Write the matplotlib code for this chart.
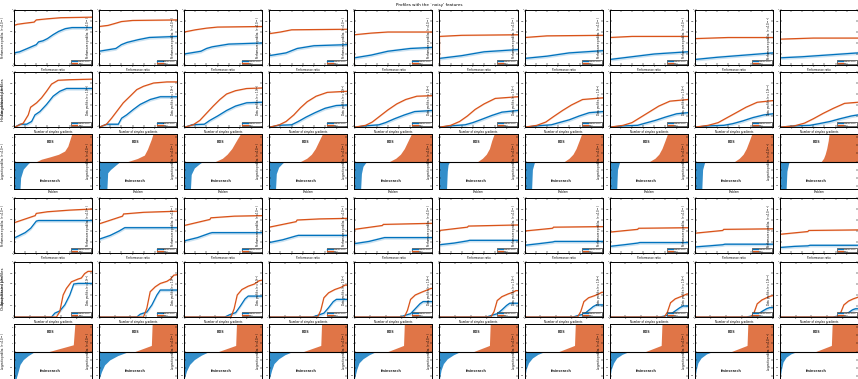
import numpy as np
import matplotlib
matplotlib.use("Agg")
import matplotlib.pyplot as plt
from matplotlib.lines import Line2D

# ---------------------------------------------------------------- data
solvers = ["fminsearch", "BDS"]
tau_exponents = [1, 2, 3, 4, 5, 6, 7, 8, 9, 10]
title = "Profiles with the `noisy' features"
group_labels = ["History-based profiles", "Output-based profiles"]

perf_ticks = [0, 1, 2, 3, 4, 5, 6, 7]
data_hist_ticks = [0, 1, 2, 3, 4, 5, 6, 7]
data_out_ticks = [0, 2, 4, 6, 8, 10]
ratio_ticks = [-3, -2, -1, 0, 1, 2, 3]
ratio_max = 3.4
n_problems = 100

# performance profiles, history-based: (ratio, fraction) breakpoints per tolerance
perf_hist_fmin = [
    ([0, 0, 0.5, 1.2, 2.0, 2.2, 2.6, 3.0, 3.5, 4.0, 4.6, 5.2, 7], [0, 0.22, 0.24, 0.30, 0.37, 0.42, 0.44, 0.48, 0.55, 0.61, 0.66, 0.68, 0.68]),
    ([0, 0, 1.5, 2.0, 2.5, 3.5, 4.5, 7], [0, 0.25, 0.30, 0.37, 0.41, 0.46, 0.50, 0.52]),
    ([0, 0, 1.5, 2.0, 2.5, 4.0, 7], [0, 0.20, 0.25, 0.30, 0.33, 0.38, 0.40]),
    ([0, 0, 1.5, 2.5, 4.0, 7], [0, 0.17, 0.22, 0.30, 0.35, 0.37]),
    ([0, 0, 1.5, 3.0, 5.0, 7], [0, 0.13, 0.18, 0.25, 0.30, 0.32]),
    ([0, 0, 2.0, 4.0, 7], [0, 0.12, 0.17, 0.24, 0.28]),
    ([0, 0, 2.0, 4.0, 7], [0, 0.12, 0.16, 0.22, 0.26]),
    ([0, 0, 2.0, 4.0, 7], [0, 0.10, 0.15, 0.20, 0.24]),
    ([0, 0, 2.0, 7], [0, 0.10, 0.14, 0.22]),
    ([0, 0, 2.0, 7], [0, 0.13, 0.15, 0.22]),
]
perf_hist_bds = [
    ([0, 0, 0.3, 1.0, 1.8, 2.0, 3.0, 4.2, 7], [0, 0.72, 0.74, 0.76, 0.78, 0.82, 0.84, 0.86, 0.87]),
    ([0, 0, 0.8, 1.5, 2.0, 3.0, 7], [0, 0.70, 0.72, 0.76, 0.79, 0.81, 0.82]),
    ([0, 0, 1.0, 2.0, 3.0, 7], [0, 0.60, 0.64, 0.67, 0.69, 0.70]),
    ([0, 0, 1.0, 2.0, 7], [0, 0.57, 0.60, 0.64, 0.65]),
    ([0, 0, 1.5, 3.0, 7], [0, 0.55, 0.58, 0.60, 0.60]),
    ([0, 0, 2.0, 7], [0, 0.52, 0.54, 0.55]),
    ([0, 0, 2.0, 7], [0, 0.50, 0.53, 0.54]),
    ([0, 0, 2.0, 7], [0, 0.50, 0.52, 0.52]),
    ([0, 0, 3.0, 7], [0, 0.48, 0.50, 0.50]),
    ([0, 0, 3.0, 7], [0, 0.47, 0.49, 0.49]),
]

# data profiles, history-based
data_hist_fmin = [
    ([0, 0.09, 0.54, 1.13, 1.58, 1.88, 2.32, 2.92, 3.51, 4.11, 4.71, 7], [0, 0, 0.05, 0.05, 0.10, 0.22, 0.28, 0.41, 0.56, 0.65, 0.70, 0.70]),
    ([0, 0.06, 0.66, 1.72, 2.02, 2.47, 3.08, 3.68, 4.59, 5.49, 7], [0, 0, 0.05, 0.05, 0.16, 0.22, 0.32, 0.41, 0.50, 0.55, 0.55]),
    ([0, 0.1, 0.7, 1.8, 2.3, 3.0, 3.8, 4.6, 5.6, 7], [0, 0, 0.04, 0.05, 0.12, 0.20, 0.30, 0.38, 0.44, 0.45]),
    ([0, 0.1, 0.8, 2.0, 2.6, 3.3, 4.1, 5.0, 6.0, 7], [0, 0, 0.03, 0.04, 0.10, 0.18, 0.26, 0.34, 0.39, 0.40]),
    ([0, 0.1, 1.0, 2.2, 2.8, 3.6, 4.5, 5.4, 7], [0, 0, 0.02, 0.04, 0.08, 0.15, 0.22, 0.28, 0.30]),
    ([0, 0.1, 1.0, 2.3, 3.0, 3.8, 4.7, 5.6, 7], [0, 0, 0.02, 0.04, 0.08, 0.14, 0.21, 0.27, 0.30]),
    ([0, 0.1, 1.1, 2.4, 3.1, 4.0, 4.9, 5.8, 7], [0, 0, 0.02, 0.04, 0.08, 0.13, 0.20, 0.26, 0.28]),
    ([0, 0.1, 1.2, 2.5, 3.2, 4.1, 5.0, 6.0, 7], [0, 0, 0.02, 0.03, 0.07, 0.12, 0.18, 0.24, 0.26]),
    ([0, 0.1, 1.2, 2.6, 3.4, 4.3, 5.2, 6.2, 7], [0, 0, 0.02, 0.03, 0.06, 0.11, 0.17, 0.22, 0.24]),
    ([0, 0.1, 1.3, 2.7, 3.5, 4.5, 5.4, 6.4, 7], [0, 0, 0.02, 0.03, 0.06, 0.10, 0.15, 0.20, 0.22]),
]
data_hist_bds = [
    ([0, 0.09, 0.83, 1.28, 1.49, 2.03, 2.47, 2.92, 3.37, 3.96, 5.0, 7], [0, 0, 0.07, 0.22, 0.36, 0.44, 0.53, 0.65, 0.78, 0.85, 0.86, 0.87]),
    ([0, 0.06, 0.66, 1.12, 1.57, 2.17, 2.78, 3.38, 3.98, 4.89, 6.09, 7], [0, 0, 0.05, 0.16, 0.28, 0.44, 0.56, 0.68, 0.74, 0.80, 0.82, 0.82]),
    ([0, 0.1, 0.8, 1.4, 2.0, 2.6, 3.2, 3.8, 4.6, 5.6, 7], [0, 0, 0.04, 0.12, 0.25, 0.38, 0.50, 0.60, 0.66, 0.70, 0.71]),
    ([0, 0.1, 0.9, 1.5, 2.2, 2.8, 3.4, 4.2, 5.2, 7], [0, 0, 0.04, 0.10, 0.22, 0.35, 0.46, 0.56, 0.63, 0.65]),
    ([0, 0.1, 1.0, 1.6, 2.3, 3.0, 3.8, 4.6, 5.6, 7], [0, 0, 0.03, 0.09, 0.20, 0.31, 0.42, 0.50, 0.56, 0.57]),
    ([0, 0.1, 1.0, 1.8, 2.5, 3.2, 4.0, 5.0, 7], [0, 0, 0.03, 0.10, 0.20, 0.32, 0.42, 0.52, 0.55]),
    ([0, 0.1, 1.1, 1.9, 2.6, 3.4, 4.2, 5.2, 7], [0, 0, 0.03, 0.09, 0.19, 0.30, 0.40, 0.50, 0.53]),
    ([0, 0.1, 1.2, 2.0, 2.8, 3.6, 4.4, 5.4, 7], [0, 0, 0.03, 0.08, 0.18, 0.28, 0.38, 0.47, 0.50]),
    ([0, 0.1, 1.2, 2.1, 2.9, 3.8, 4.6, 5.6, 7], [0, 0, 0.03, 0.08, 0.17, 0.27, 0.36, 0.45, 0.48]),
    ([0, 0.1, 1.3, 2.2, 3.0, 3.9, 4.8, 5.8, 7], [0, 0, 0.02, 0.07, 0.15, 0.25, 0.34, 0.43, 0.45]),
]

# log-ratio profiles, history-based: (problem, log-ratio) breakpoints
ratio_hist_fmin = [
    ([0, 7.7, 8.5, 11.9, 18.3, 21.3], [-3.4, -3.4, -2.0, -0.94, -0.25, 0]),
    ([0, 10, 11, 14.5, 21, 27], [-3.4, -3.4, -1.4, -1.0, -0.47, 0]),
    ([0, 8, 9, 13, 20, 24], [-3.4, -3.4, -1.6, -0.8, -0.25, 0]),
    ([0, 8, 9, 12, 17, 20], [-3.4, -3.4, -1.5, -0.7, -0.2, 0]),
    ([0, 8, 9, 11, 14, 16], [-3.4, -3.4, -1.5, -0.6, -0.2, 0]),
    ([0, 9, 10, 11, 13], [-3.4, -3.4, -1.2, -0.4, 0]),
    ([0, 9, 10, 12, 13], [-3.4, -3.4, -1.0, -0.3, 0]),
    ([0, 9, 10, 12, 13], [-3.4, -3.4, -1.0, -0.3, 0]),
    ([0, 9, 10, 12, 13], [-3.4, -3.4, -1.0, -0.3, 0]),
    ([0, 8, 9, 11, 12], [-3.4, -3.4, -1.2, -0.3, 0]),
]
ratio_hist_bds = [
    ([29, 35, 46, 57, 65, 69, 74, 100], [0, 0.28, 0.57, 0.89, 1.3, 1.9, 3.4, 3.4]),
    ([37, 49, 58, 62, 67, 69, 100], [0, 0.37, 0.79, 1.53, 2.77, 3.4, 3.4]),
    ([40, 49, 55, 61, 67, 72, 100], [0, 0.4, 0.9, 1.6, 2.6, 3.4, 3.4]),
    ([40, 48, 54, 59, 64, 68, 100], [0, 0.4, 0.9, 1.6, 2.6, 3.4, 3.4]),
    ([45, 53, 59, 64, 69, 73, 100], [0, 0.4, 0.9, 1.6, 2.6, 3.4, 3.4]),
    ([49, 55, 60, 64, 67, 70, 100], [0, 0.4, 0.9, 1.6, 2.6, 3.4, 3.4]),
    ([51, 57, 62, 66, 70, 73, 100], [0, 0.4, 0.9, 1.6, 2.6, 3.4, 3.4]),
    ([51, 58, 63, 67, 71, 74, 100], [0, 0.4, 0.9, 1.6, 2.6, 3.4, 3.4]),
    ([51, 57, 62, 66, 70, 73, 100], [0, 0.4, 0.9, 1.6, 2.6, 3.4, 3.4]),
    ([53, 56, 58, 60, 62, 63, 100], [0, 0.4, 0.9, 1.6, 2.6, 3.4, 3.4]),
]

# performance profiles, output-based
perf_out_fmin = [
    ([0, 0, 1.0, 1.5, 2.0, 2.2, 7], [0, 0.27, 0.37, 0.45, 0.58, 0.59, 0.59]),
    ([0, 0, 1.0, 1.8, 2.3, 7], [0, 0.25, 0.32, 0.40, 0.46, 0.46]),
    ([0, 0, 1.2, 2.3, 2.5, 7], [0, 0.22, 0.28, 0.36, 0.37, 0.37]),
    ([0, 0, 1.2, 2.4, 2.6, 7], [0, 0.19, 0.24, 0.31, 0.32, 0.32]),
    ([0, 0, 1.3, 2.5, 2.7, 7], [0, 0.17, 0.21, 0.27, 0.28, 0.28]),
    ([0, 0, 1.3, 2.5, 2.7, 7], [0, 0.15, 0.18, 0.22, 0.23, 0.23]),
    ([0, 0, 1.3, 2.5, 2.7, 7], [0, 0.14, 0.17, 0.20, 0.21, 0.21]),
    ([0, 0, 1.3, 2.5, 2.7, 7], [0, 0.12, 0.15, 0.18, 0.19, 0.19]),
    ([0, 0, 1.3, 2.5, 2.7, 7], [0, 0.11, 0.13, 0.15, 0.16, 0.16]),
    ([0, 0, 1.3, 2.5, 2.7, 7], [0, 0.10, 0.12, 0.13, 0.14, 0.14]),
]
perf_out_bds = [
    ([0, 0, 1.9, 2.0, 3.0, 5.0, 7], [0, 0.55, 0.68, 0.72, 0.75, 0.78, 0.80]),
    ([0, 0, 2.1, 2.2, 4.0, 7], [0, 0.53, 0.67, 0.71, 0.74, 0.76]),
    ([0, 0, 2.3, 2.4, 4.5, 7], [0, 0.50, 0.61, 0.64, 0.67, 0.68]),
    ([0, 0, 2.4, 2.5, 4.5, 7], [0, 0.47, 0.57, 0.60, 0.62, 0.63]),
    ([0, 0, 2.5, 2.6, 7], [0, 0.43, 0.50, 0.52, 0.54]),
    ([0, 0, 2.5, 2.6, 7], [0, 0.41, 0.47, 0.49, 0.51]),
    ([0, 0, 2.5, 2.6, 7], [0, 0.40, 0.45, 0.47, 0.48]),
    ([0, 0, 2.5, 2.6, 7], [0, 0.38, 0.43, 0.45, 0.46]),
    ([0, 0, 2.5, 2.6, 7], [0, 0.36, 0.41, 0.43, 0.44]),
    ([0, 0, 2.5, 2.6, 7], [0, 0.34, 0.39, 0.41, 0.42]),
]

# data profiles, output-based
data_out_fmin = [
    ([0, 4.81, 5.23, 5.87, 6.51, 7.15, 7.66, 8.21, 10], [0, 0, 0.07, 0.11, 0.22, 0.40, 0.60, 0.61, 0.61]),
    ([0, 4.83, 5.26, 6.12, 6.77, 7.41, 7.84, 10], [0, 0, 0.05, 0.09, 0.22, 0.40, 0.49, 0.49]),
    ([0, 5.2, 5.8, 6.6, 7.2, 7.8, 8.2, 10], [0, 0, 0.04, 0.08, 0.20, 0.33, 0.38, 0.38]),
    ([0, 5.5, 6.2, 7.0, 7.6, 8.2, 8.6, 10], [0, 0, 0.03, 0.07, 0.17, 0.28, 0.32, 0.32]),
    ([0, 5.8, 6.5, 7.2, 7.8, 8.4, 8.8, 10], [0, 0, 0.03, 0.06, 0.15, 0.24, 0.28, 0.28]),
    ([0, 6.0, 6.7, 7.4, 8.0, 8.6, 9.0, 10], [0, 0, 0.03, 0.06, 0.13, 0.21, 0.25, 0.25]),
    ([0, 6.2, 6.9, 7.6, 8.2, 8.8, 9.2, 10], [0, 0, 0.03, 0.05, 0.12, 0.19, 0.22, 0.22]),
    ([0, 6.4, 7.1, 7.8, 8.4, 9.0, 9.4, 10], [0, 0, 0.02, 0.05, 0.11, 0.17, 0.20, 0.20]),
    ([0, 6.6, 7.3, 8.0, 8.6, 9.2, 9.6, 10], [0, 0, 0.02, 0.04, 0.10, 0.15, 0.17, 0.17]),
    ([0, 6.8, 7.5, 8.2, 8.8, 9.3, 9.7, 10], [0, 0, 0.02, 0.04, 0.08, 0.13, 0.15, 0.15]),
]
data_out_bds = [
    ([0, 5.45, 5.87, 6.3, 6.72, 7.36, 8.21, 8.64, 9.06, 9.49, 10], [0, 0, 0.10, 0.40, 0.52, 0.64, 0.69, 0.71, 0.79, 0.83, 0.83]),
    ([0, 5.69, 6.12, 6.55, 7.2, 7.84, 8.71, 9.14, 9.57, 10], [0, 0, 0.16, 0.46, 0.55, 0.61, 0.65, 0.69, 0.76, 0.77]),
    ([0, 6.0, 6.4, 6.8, 7.4, 8.2, 9.0, 9.6, 10], [0, 0, 0.15, 0.40, 0.50, 0.56, 0.60, 0.66, 0.67]),
    ([0, 6.2, 6.6, 7.0, 7.6, 8.4, 9.2, 9.7, 10], [0, 0, 0.12, 0.35, 0.44, 0.50, 0.54, 0.58, 0.58]),
    ([0, 6.4, 6.8, 7.2, 7.8, 8.6, 9.3, 9.8, 10], [0, 0, 0.12, 0.32, 0.40, 0.45, 0.49, 0.52, 0.52]),
    ([0, 6.6, 7.0, 7.4, 8.0, 8.8, 9.4, 9.8, 10], [0, 0, 0.10, 0.30, 0.37, 0.42, 0.45, 0.48, 0.48]),
    ([0, 6.8, 7.2, 7.6, 8.2, 9.0, 9.5, 9.9, 10], [0, 0, 0.10, 0.28, 0.35, 0.39, 0.42, 0.45, 0.45]),
    ([0, 7.0, 7.4, 7.8, 8.4, 9.1, 9.6, 9.9, 10], [0, 0, 0.09, 0.26, 0.33, 0.37, 0.40, 0.42, 0.42]),
    ([0, 7.2, 7.6, 8.0, 8.6, 9.2, 9.7, 10], [0, 0, 0.08, 0.24, 0.31, 0.35, 0.38, 0.39]),
    ([0, 7.4, 7.8, 8.2, 8.8, 9.4, 9.8, 10], [0, 0, 0.08, 0.22, 0.29, 0.33, 0.35, 0.36]),
]

# log-ratio profiles, output-based
ratio_out_fmin = [
    ([0, 2.6, 5.5, 7.7, 11.9, 18.3, 24.7, 26.8], [-3.4, -3.4, -2.4, -1.6, -1.0, -0.5, -0.12, 0]),
    ([0, 3, 7, 13.6, 24, 38], [-3.4, -2.5, -1.66, -1.04, -0.5, 0]),
    ([0, 3, 7, 13, 22, 32], [-3.4, -2.4, -1.6, -1.0, -0.45, 0]),
    ([0, 3, 6, 12, 20, 30], [-3.4, -2.3, -1.5, -0.9, -0.4, 0]),
    ([0, 3, 6, 11, 19, 28], [-3.4, -2.2, -1.4, -0.9, -0.4, 0]),
    ([0, 2, 5, 10, 18, 27], [-3.4, -2.3, -1.5, -0.9, -0.4, 0]),
    ([0, 2, 5, 10, 17, 26], [-3.4, -2.2, -1.4, -0.8, -0.35, 0]),
    ([0, 2, 5, 9, 16, 25], [-3.4, -2.2, -1.4, -0.8, -0.35, 0]),
    ([0, 2, 4, 8, 15, 23], [-3.4, -2.2, -1.4, -0.8, -0.3, 0]),
    ([0, 2, 4, 8, 14, 22], [-3.4, -2.2, -1.3, -0.7, -0.3, 0]),
]
ratio_out_bds = [
    ([45, 76, 78, 100], [0, 0.83, 3.4, 3.4]),
    ([46, 67, 68, 100], [0, 0.75, 3.4, 3.4]),
    ([44, 66, 67, 100], [0, 0.75, 3.4, 3.4]),
    ([44, 66, 67, 100], [0, 0.75, 3.4, 3.4]),
    ([43, 63, 64, 100], [0, 0.75, 3.4, 3.4]),
    ([44, 64, 65, 100], [0, 0.75, 3.4, 3.4]),
    ([44, 64, 65, 100], [0, 0.75, 3.4, 3.4]),
    ([46, 66, 67, 100], [0, 0.75, 3.4, 3.4]),
    ([47, 67, 68, 100], [0, 0.75, 3.4, 3.4]),
    ([46, 66, 67, 100], [0, 0.75, 3.4, 3.4]),
]

band_fmin = 0.03
band_bds = 0.01

# ---------------------------------------------------------------- style
BLUE = "#0072BD"
ORANGE = "#D95319"
plt.rcParams["font.family"] = ["DejaVu Sans"]

W, H = 858, 379
fig = plt.figure(figsize=(W / 100, H / 100), dpi=100)
fig.patch.set_facecolor("white")

col_left = [14 + 85.1 * c for c in range(10)]
row_top = [10, 72, 134, 198, 262, 324]
ax_w, ax_h = 78, 55

TICK_FS = 1.5
LABEL_FS = 1.9


def make_axes(r, c):
    ax = fig.add_axes([col_left[c] / W, 1 - (row_top[r] + ax_h) / H, ax_w / W, ax_h / H])
    for s in ax.spines.values():
        s.set_linewidth(0.7)
    ax.tick_params(direction="in", top=True, right=True, labelsize=TICK_FS,
                   length=1.4, width=0.35, pad=0.5)
    return ax


def set_ylabel(ax, text):
    ax.set_ylabel(text, fontsize=LABEL_FS)
    ax.yaxis.set_label_coords(-0.075, 0.5)


def curve(ax, xy, color, band):
    x, y = np.asarray(xy[0], float), np.asarray(xy[1], float)
    if band:
        lo = np.clip(y - band, 0, 1)
        hi = np.where(y > 0, np.clip(y + band, 0, 1), 0)
        ax.fill_between(x, lo, hi, color=color, alpha=0.2, lw=0)
    ax.plot(x, y, color=color, lw=0.9, solid_joinstyle="miter")


def profile_panel(ax, fmin, bds, ticks, xlabel, ylabel):
    curve(ax, fmin, BLUE, band_fmin)
    curve(ax, bds, ORANGE, band_bds)
    ax.set_xlim(ticks[0], ticks[-1])
    ax.set_ylim(0, 1)
    ax.set_xticks(ticks)
    ax.set_yticks([0, 0.2, 0.4, 0.6, 0.8, 1])
    ax.set_yticklabels(["0", "0.2", "0.4", "0.6", "0.8", "1"])
    ax.set_xlabel(xlabel, fontsize=LABEL_FS, labelpad=0.6)
    set_ylabel(ax, ylabel)
    handles = [Line2D([], [], color=BLUE, lw=0.9), Line2D([], [], color=ORANGE, lw=0.9)]
    leg = ax.legend(handles, solvers, loc="lower right", fontsize=1.6, handlelength=2.4,
                    borderpad=0.3, labelspacing=0.15, handletextpad=0.4,
                    borderaxespad=0.3, fancybox=False, framealpha=1)
    leg.get_frame().set_edgecolor("black")
    leg.get_frame().set_linewidth(0.4)


def ratio_panel(ax, fmin, bds, ylabel, show_xlabel=True):
    ax.fill_between(fmin[0], fmin[1], 0, color=BLUE, alpha=0.8, lw=0)
    ax.fill_between(bds[0], bds[1], 0, color=ORANGE, alpha=0.8, lw=0)
    ax.axhline(0, color="black", lw=0.8)
    ax.set_xlim(0, n_problems)
    ax.set_ylim(-ratio_max, ratio_max)
    ax.set_xticks([])
    ax.set_yticks(ratio_ticks)
    if show_xlabel:
        ax.set_xlabel("Problem", fontsize=LABEL_FS, labelpad=0.6)
    set_ylabel(ax, ylabel)
    ax.text(0.47, 0.86, solvers[1], transform=ax.transAxes, ha="center", va="center",
            fontsize=2.4, fontweight="bold", color="#333333")
    ax.text(0.47, 0.15, solvers[0], transform=ax.transAxes, ha="center", va="center",
            fontsize=2.4, fontweight="bold", color="#333333")


for c, k in enumerate(tau_exponents):
    tau = r"($\tau = 10^{-%d}$)" % k
    profile_panel(make_axes(0, c), perf_hist_fmin[c], perf_hist_bds[c], perf_ticks,
                  "Performance ratio", "Performance profiles " + tau)
    profile_panel(make_axes(1, c), data_hist_fmin[c], data_hist_bds[c], data_hist_ticks,
                  "Number of simplex gradients", "Data profiles " + tau)
    ratio_panel(make_axes(2, c), ratio_hist_fmin[c], ratio_hist_bds[c],
                "Log-ratio profiles " + tau)
    profile_panel(make_axes(3, c), perf_out_fmin[c], perf_out_bds[c], perf_ticks,
                  "Performance ratio", "Performance profiles " + tau)
    profile_panel(make_axes(4, c), data_out_fmin[c], data_out_bds[c], data_out_ticks,
                  "Number of simplex gradients", "Data profiles " + tau)
    ratio_panel(make_axes(5, c), ratio_out_fmin[c], ratio_out_bds[c],
                "Log-ratio profiles " + tau, show_xlabel=False)

fig.text(0.5, 1 - 5 / H, title, ha="center", va="center", fontsize=3.0)
fig.text(3 / W, 1 - 100 / H, group_labels[0], rotation=90, ha="center", va="center", fontsize=2.8)
fig.text(3 / W, 1 - 289 / H, group_labels[1], rotation=90, ha="center", va="center", fontsize=2.8)

fig.savefig("out.png", dpi=100, facecolor="white")
